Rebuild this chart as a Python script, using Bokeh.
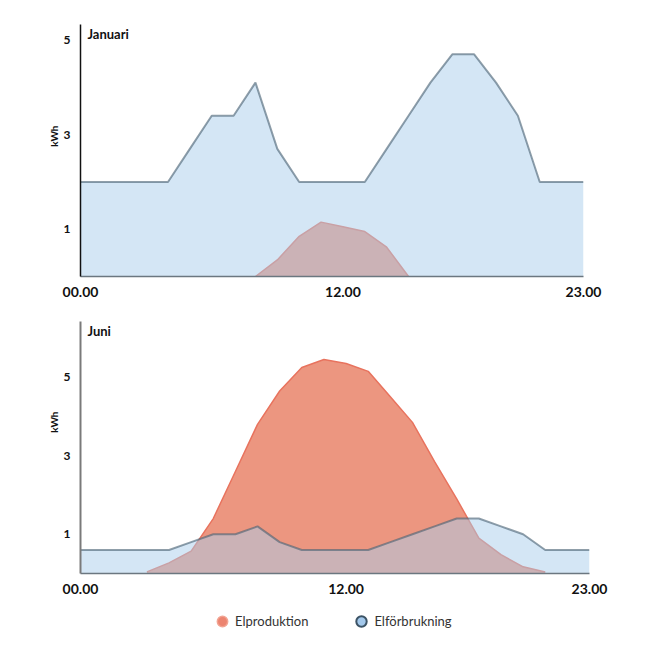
from bokeh.plotting import figure
from bokeh.models import Range1d, FixedTicker, Label, Legend, LegendItem, ColumnDataSource, Title
from bokeh.layouts import column
from bokeh.embed import file_html
from bokeh.resources import INLINE

# ---- data ----
hours = list(range(24))
x_ticks = [0, 12, 23]
x_tick_labels = ["00.00", "12.00", "23.00"]
y_ticks = [1, 3, 5]

jan_prod = [None]*8 + [0.0, 0.35, 0.85, 1.15, 1.05, 0.95, 0.62, 0.0] + [None]*8
jan_cons = [2.0, 2.0, 2.0, 2.0, 2.0, 2.7, 3.4, 3.4, 4.1, 2.7, 2.0, 2.0,
            2.0, 2.0, 2.7, 3.4, 4.1, 4.7, 4.7, 4.1, 3.4, 2.0, 2.0, 2.0]
jun_prod = [None, None, None, 0.04, 0.27, 0.57, 1.4, 2.6, 3.8, 4.65, 5.25, 5.45,
            5.35, 5.15, 4.5, 3.85, 2.85, 1.9, 0.9, 0.48, 0.17, 0.04, None, None]
jun_cons = [0.6, 0.6, 0.6, 0.6, 0.6, 0.8, 1.0, 1.0, 1.2, 0.8, 0.6, 0.6,
            0.6, 0.6, 0.8, 1.0, 1.2, 1.4, 1.4, 1.2, 1.0, 0.6, 0.6, 0.6]

titles = ["Januari", "Juni"]
series_names = ["Elproduktion", "Elförbrukning"]
unit_label = "kWh"

FONT = "Lato"
RED_FILL = "#ec9680"
RED_LINE = "#e8735e"
BLUE_FILL = "#a9cdeb"
BLUE_LINE = "#4a6374"


def pairs(vals):
    xs = [h for h, v in zip(hours, vals) if v is not None]
    ys = [v for v in vals if v is not None]
    return xs, ys


def make_panel(title, prod, cons, ymax, width, height, mb_top, mb_bottom,
               left_axis_color, left_axis_w, kwh_offset):
    p = figure(width=width, height=height, x_range=Range1d(0, 23), y_range=Range1d(0, ymax),
               output_backend="svg", toolbar_location=None,
               min_border_left=80, min_border_right=30, min_border_top=mb_top, min_border_bottom=mb_bottom)
    p.outline_line_color = None
    p.xgrid.visible = False
    p.ygrid.visible = False

    px, py = pairs(prod)
    cx, cy = pairs(cons)
    p.varea(x=px, y1=[0]*len(px), y2=py, fill_color=RED_FILL, fill_alpha=1.0)
    p.line(x=px, y=py, line_color=RED_LINE, line_width=1.5)
    p.varea(x=cx, y1=[0]*len(cx), y2=cy, fill_color=BLUE_FILL, fill_alpha=0.5)
    p.line(x=cx, y=cy, line_color=BLUE_LINE, line_width=2, line_alpha=0.62)

    p.xaxis.ticker = FixedTicker(ticks=x_ticks)
    p.xaxis.major_label_overrides = {t: l for t, l in zip(x_ticks, x_tick_labels)}
    p.yaxis.ticker = FixedTicker(ticks=y_ticks)
    for ax in (p.xaxis, p.yaxis):
        ax.major_tick_line_color = None
        ax.minor_tick_line_color = None
        ax.major_label_text_font = FONT
        ax.major_label_text_font_style = "bold"
        ax.major_label_text_color = "#111111"
    p.xaxis.major_label_text_font_size = "14px"
    p.xaxis.major_label_standoff = 4
    p.xaxis.axis_line_color = "#6b7780"
    p.xaxis.axis_line_width = 1.5
    p.yaxis.major_label_text_font_size = "12px"
    p.yaxis.major_label_standoff = 4
    p.yaxis.axis_line_color = left_axis_color
    p.yaxis.axis_line_width = left_axis_w

    p.add_layout(Title(text=unit_label, align="right", offset=kwh_offset,
                       text_font=FONT, text_font_style="bold", text_font_size="10px",
                       text_color="#111111", standoff=2), "left")

    p.add_layout(Label(x=7, y=243, x_units="screen", y_units="screen", text=title,
                       text_font=FONT, text_font_style="bold", text_font_size="13px",
                       text_baseline="middle", text_align="left", text_color="#111111"))
    return p


p1 = make_panel(titles[0], jan_prod, jan_cons, 5.33, 613, 307, 24, 31, "#111111", 1.5, 101)
p2 = make_panel(titles[1], jun_prod, jun_cons, 6.42, 619, 300, 14, 34, "#7a7a7a", 2, 90)

# legend strip
p3 = figure(width=619, height=28, x_range=Range1d(0, 1), y_range=Range1d(0, 1),
            output_backend="svg", toolbar_location=None,
            min_border_left=80, min_border_right=30, min_border_top=0, min_border_bottom=0)
p3.axis.visible = False
p3.grid.visible = False
p3.outline_line_color = None
src_hidden = ColumnDataSource(data=dict(x=[-5], y=[-5]))
r_leg1 = p3.scatter(x="x", y="y", source=src_hidden, size=11, marker="circle",
                    fill_color="#ec8470", line_color="#f2a493", line_width=1.5)
r_leg2 = p3.scatter(x="x", y="y", source=src_hidden, size=11, marker="circle",
                    fill_color="#a3c8eb", line_color="#3c5365", line_width=2)
legend = Legend(items=[LegendItem(label=series_names[0], renderers=[r_leg1]),
                       LegendItem(label=series_names[1], renderers=[r_leg2])],
                orientation="horizontal", location=(129, 1),
                label_text_font=FONT, label_text_font_size="13px", label_text_color="#333333",
                glyph_width=26, glyph_height=26, label_standoff=0, spacing=40,
                padding=0, margin=0, border_line_color=None, background_fill_alpha=0)
p3.add_layout(legend)

layout = column(p1, p2, p3)
open("out.html", "w").write(file_html(layout, INLINE))
